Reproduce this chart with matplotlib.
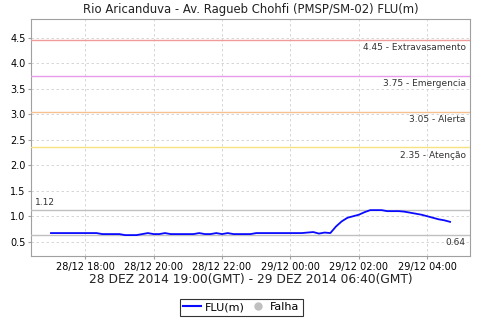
import datetime
import matplotlib
matplotlib.use("Agg")
import matplotlib.pyplot as plt
import matplotlib.dates as mdates
import matplotlib.transforms as mtransforms
from matplotlib.lines import Line2D

# leituras a cada 10 min, a partir de 28/12 17:00 (hora local)
start = datetime.datetime(2014, 12, 28, 17, 0)
flu = [0.67, 0.67, 0.67, 0.67, 0.67, 0.67, 0.67, 0.67, 0.67, 0.65,
       0.65, 0.65, 0.65, 0.63, 0.63, 0.63, 0.65, 0.67, 0.65, 0.65,
       0.67, 0.65, 0.65, 0.65, 0.65, 0.65, 0.67, 0.65, 0.65, 0.67,
       0.65, 0.67, 0.65, 0.65, 0.65, 0.65, 0.67, 0.67, 0.67, 0.67,
       0.67, 0.67, 0.67, 0.67, 0.67, 0.68, 0.69, 0.66, 0.68, 0.67,
       0.80, 0.90, 0.97, 1.00, 1.03, 1.08, 1.12, 1.12, 1.12, 1.10,
       1.10, 1.10, 1.09, 1.07, 1.05, 1.03, 1.00, 0.97, 0.94, 0.92,
       0.89]
times = [start + datetime.timedelta(minutes=10 * i) for i in range(len(flu))]

limites = [4.45, 3.75, 3.05, 2.35]
nomes = ["Extravasamento", "Emergencia", "Alerta", "Atenção"]
cores = ["#f19a9a", "#e79be9", "#f7c08f", "#f6e27e"]
max_val = 1.12
min_val = 0.64

fig = plt.figure(figsize=(4.8, 3.2), dpi=100)
ax = fig.add_axes([0.0646, 0.2, 0.9146, 0.7406])

ax.plot(times, flu, color="#0a0aff", lw=1.3, zorder=5)

trans = mtransforms.blended_transform_factory(ax.transAxes, ax.transData)
for val, nome, cor in zip(limites, nomes, cores):
    ax.axhline(val, color=cor, lw=1.0, zorder=3)
    ax.text(0.99, val - 0.06, "%.2f - %s" % (val, nome), transform=trans,
            ha="right", va="top", fontsize=6.5, color="#333333")

ax.axhline(max_val, color="#c0c0c0", lw=1.0, zorder=3)
ax.axhline(min_val, color="#c0c0c0", lw=1.0, zorder=3)
ax.text(0.008, max_val + 0.06, "%.2f" % max_val, transform=trans,
        ha="left", va="bottom", fontsize=6.5, color="#333333")
ax.text(0.99, min_val - 0.06, "%.2f" % min_val, transform=trans,
        ha="right", va="top", fontsize=6.5, color="#333333")

span = times[-1] - times[0]
ax.set_xlim(times[0] - span * 0.05, times[-1] + span * 0.05)
ax.set_ylim(0.22, 4.87)
ax.set_yticks([0.5, 1.0, 1.5, 2.0, 2.5, 3.0, 3.5, 4.0, 4.5])
ax.yaxis.set_major_formatter(plt.FormatStrFormatter("%.1f"))
ax.xaxis.set_major_locator(mdates.HourLocator(byhour=range(0, 24, 2)))
ax.xaxis.set_major_formatter(mdates.DateFormatter("%d/%m %H:%M"))

ax.grid(True, color="#d0d0d0", ls=(0, (3, 3)), lw=0.6)
for s in ax.spines.values():
    s.set_color("#a0a0a0")
ax.tick_params(labelsize=7, length=2, color="#a0a0a0", pad=2)

ax.set_title("Rio Aricanduva - Av. Ragueb Chohfi (PMSP/SM-02) FLU(m)",
             fontsize=8.4, pad=4, color="#222222")
ax.set_xlabel("28 DEZ 2014 19:00(GMT) - 29 DEZ 2014 06:40(GMT)",
              fontsize=8.8, labelpad=1, color="#222222")

handles = [Line2D([], [], color="#0a0aff", lw=1.5),
           Line2D([], [], color="#c0c0c0", marker="o", ls="", ms=5)]
leg = fig.legend(handles, ["FLU(m)", "Falha"], loc="center",
                 bbox_to_anchor=(0.503, 0.04), ncol=2, fontsize=8,
                 frameon=True, fancybox=False, handlelength=1.6,
                 handletextpad=0.3, columnspacing=0.4, borderpad=0.3,
                 borderaxespad=0)
leg.get_frame().set_edgecolor("black")
leg.get_frame().set_linewidth(0.8)

fig.savefig("out.png", dpi=100)
